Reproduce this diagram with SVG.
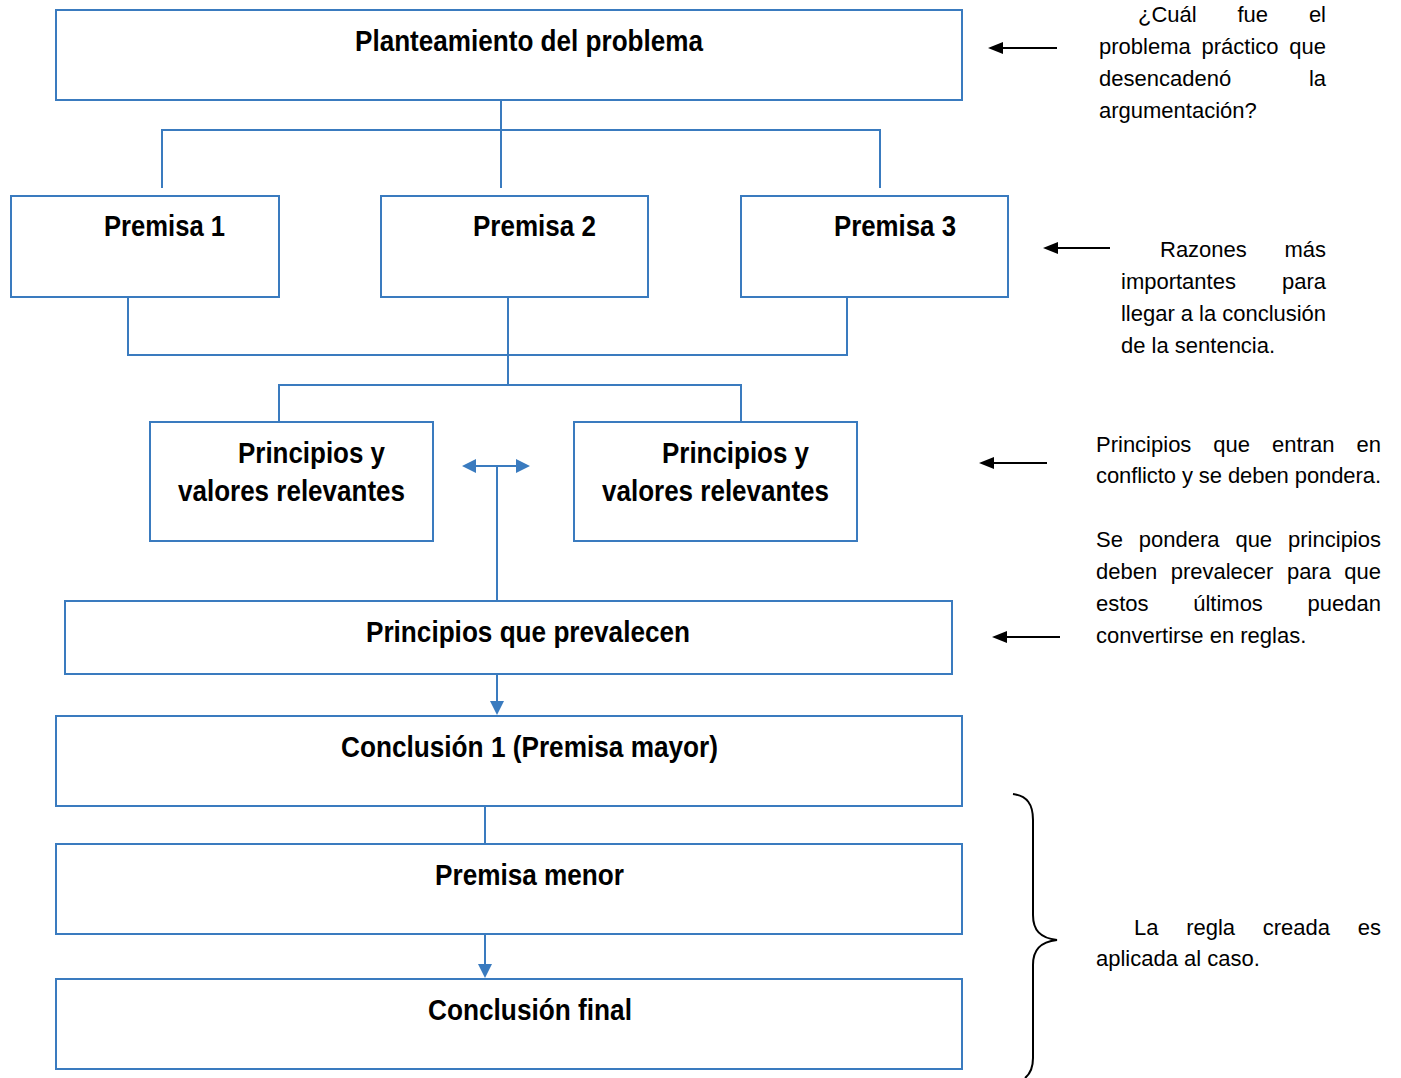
<svg xmlns="http://www.w3.org/2000/svg" width="1401" height="1078" viewBox="0 0 1401 1078">
<style>
.box{fill:#fff;stroke:#3A7BBF;stroke-width:2}
.con{fill:none;stroke:#3A7BBF;stroke-width:2}
.t{font-family:"Liberation Sans",Arial,sans-serif;font-weight:bold;font-size:29px;fill:#000;text-anchor:middle}
.n{font-family:"Liberation Sans",Arial,sans-serif;font-size:22px;fill:#000}
.e{text-anchor:end}
.blk{fill:none;stroke:#000;stroke-width:2}
</style>
<defs>
<marker id="ab" viewBox="0 0 10 10" refX="9" refY="5" markerWidth="7" markerHeight="7" markerUnits="userSpaceOnUse" orient="auto-start-reverse"><path d="M0,0 L10,5 L0,10 Z" fill="#3A7BBF"/></marker>
<marker id="ak" viewBox="0 0 10 10" refX="9" refY="5" markerWidth="7" markerHeight="7" markerUnits="userSpaceOnUse" orient="auto"><path d="M0,0 L10,5 L0,10 Z" fill="#000"/></marker>
</defs>
<g id="connectors">
<path class="con" d="M501,100 V188 M162,188 V130 H880 V188"/>
<path class="con" d="M128,297 V355 H847 V297 M508,297 V385 M279,422 V385 H741 V422"/>
<path class="con" d="M497,601 V466"/>
<line x1="475" y1="466" x2="517" y2="466" class="con"/>
<path d="M462,466 L476,459 L476,473 Z M530,466 L516,459 L516,473 Z" fill="#3A7BBF"/>
<line x1="497" y1="674" x2="497" y2="702" class="con"/>
<path d="M497,715 L490,701 L504,701 Z" fill="#3A7BBF"/>
<line x1="485" y1="806" x2="485" y2="844" class="con"/>
<line x1="485" y1="934" x2="485" y2="965" class="con"/>
<path d="M485,978 L478,964 L492,964 Z" fill="#3A7BBF"/>
</g>
<g id="side-arrows">
<line x1="1057" y1="48" x2="1000" y2="48" class="blk"/><path d="M988,48 L1003,42 L1003,54 Z"/>
<line x1="1110" y1="248" x2="1055" y2="248" class="blk"/><path d="M1043,248 L1058,242 L1058,254 Z"/>
<line x1="1047" y1="463" x2="991" y2="463" class="blk"/><path d="M979,463 L994,457 L994,469 Z"/>
<line x1="1060" y1="637" x2="1004" y2="637" class="blk"/><path d="M992,637 L1007,631 L1007,643 Z"/>
<path class="blk" stroke-width="1.6" d="M1013,794 C1027,796 1033,804 1033,820 L1033,915 C1033,930 1040,938 1057,940 C1040,942 1033,950 1033,965 L1033,1058 C1033,1068 1030,1074 1025,1078"/>
</g>
<g id="n-planteamiento"><rect class="box" x="56" y="10" width="906" height="90"/><text class="t" x="529" y="51" textLength="348" lengthAdjust="spacingAndGlyphs">Planteamiento del problema</text></g>
<g id="n-premisa1"><rect class="box" x="11" y="196" width="268" height="101"/><text class="t" x="164.5" y="236" textLength="121" lengthAdjust="spacingAndGlyphs">Premisa 1</text></g>
<g id="n-premisa2"><rect class="box" x="381" y="196" width="267" height="101"/><text class="t" x="534.5" y="236" textLength="123" lengthAdjust="spacingAndGlyphs">Premisa 2</text></g>
<g id="n-premisa3"><rect class="box" x="741" y="196" width="267" height="101"/><text class="t" x="895" y="236" textLength="122" lengthAdjust="spacingAndGlyphs">Premisa 3</text></g>
<g id="n-principios1"><rect class="box" x="150" y="422" width="283" height="119"/><text class="t" x="311.5" y="463" textLength="147" lengthAdjust="spacingAndGlyphs">Principios y</text><text class="t" x="291.5" y="501" textLength="227" lengthAdjust="spacingAndGlyphs">valores relevantes</text></g>
<g id="n-principios2"><rect class="box" x="574" y="422" width="283" height="119"/><text class="t" x="735.5" y="463" textLength="147" lengthAdjust="spacingAndGlyphs">Principios y</text><text class="t" x="715.5" y="501" textLength="227" lengthAdjust="spacingAndGlyphs">valores relevantes</text></g>
<g id="n-prevalecen"><rect class="box" x="65" y="601" width="887" height="73"/><text class="t" x="528" y="642" textLength="324" lengthAdjust="spacingAndGlyphs">Principios que prevalecen</text></g>
<g id="n-conclusion1"><rect class="box" x="56" y="716" width="906" height="90"/><text class="t" x="529.5" y="757" textLength="377" lengthAdjust="spacingAndGlyphs">Conclusión 1 (Premisa mayor)</text></g>
<g id="n-premisamenor"><rect class="box" x="56" y="844" width="906" height="90"/><text class="t" x="529.5" y="885" textLength="189" lengthAdjust="spacingAndGlyphs">Premisa menor</text></g>
<g id="n-conclusionfinal"><rect class="box" x="56" y="979" width="906" height="90"/><text class="t" x="530" y="1020" textLength="204" lengthAdjust="spacingAndGlyphs">Conclusión final</text></g>
<g id="note1">
<text class="n" x="1138" y="22">¿Cuál</text><text class="n" x="1237.5" y="22">fue</text><text class="n e" x="1326" y="22">el</text>
<text class="n" x="1099" y="54">problema</text><text class="n" x="1201.5" y="54">práctico</text><text class="n e" x="1326" y="54">que</text>
<text class="n" x="1099" y="86">desencadenó</text><text class="n e" x="1326" y="86">la</text>
<text class="n" x="1099" y="118">argumentación?</text>
</g>
<g id="note2">
<text class="n" x="1160" y="257">Razones</text><text class="n e" x="1326" y="257">más</text>
<text class="n" x="1121" y="289">importantes</text><text class="n e" x="1326" y="289">para</text>
<text class="n" x="1121" y="321" textLength="205">llegar a la conclusión</text>
<text class="n" x="1121" y="353">de la sentencia.</text>
</g>
<g id="note3">
<text class="n" x="1096" y="452">Principios</text><text class="n" x="1213.3" y="452">que</text><text class="n" x="1272" y="452">entran</text><text class="n e" x="1381" y="452">en</text>
<text class="n" x="1096" y="483" textLength="285">conflicto y se deben pondera.</text>
<text class="n" x="1096" y="547">Se</text><text class="n" x="1138.8" y="547">pondera</text><text class="n" x="1235.4" y="547">que</text><text class="n e" x="1381" y="547">principios</text>
<text class="n" x="1096" y="579">deben</text><text class="n" x="1170.7" y="579">prevalecer</text><text class="n" x="1286.9" y="579">para</text><text class="n e" x="1381" y="579">que</text>
<text class="n" x="1096" y="611">estos</text><text class="n" x="1193.2" y="611">últimos</text><text class="n e" x="1381" y="611">puedan</text>
<text class="n" x="1096" y="643">convertirse en reglas.</text>
</g>
<g id="note4">
<text class="n" x="1134" y="935">La</text><text class="n" x="1186.2" y="935">regla</text><text class="n" x="1262.8" y="935">creada</text><text class="n e" x="1381" y="935">es</text>
<text class="n" x="1096" y="966">aplicada al caso.</text>
</g>
</svg>
